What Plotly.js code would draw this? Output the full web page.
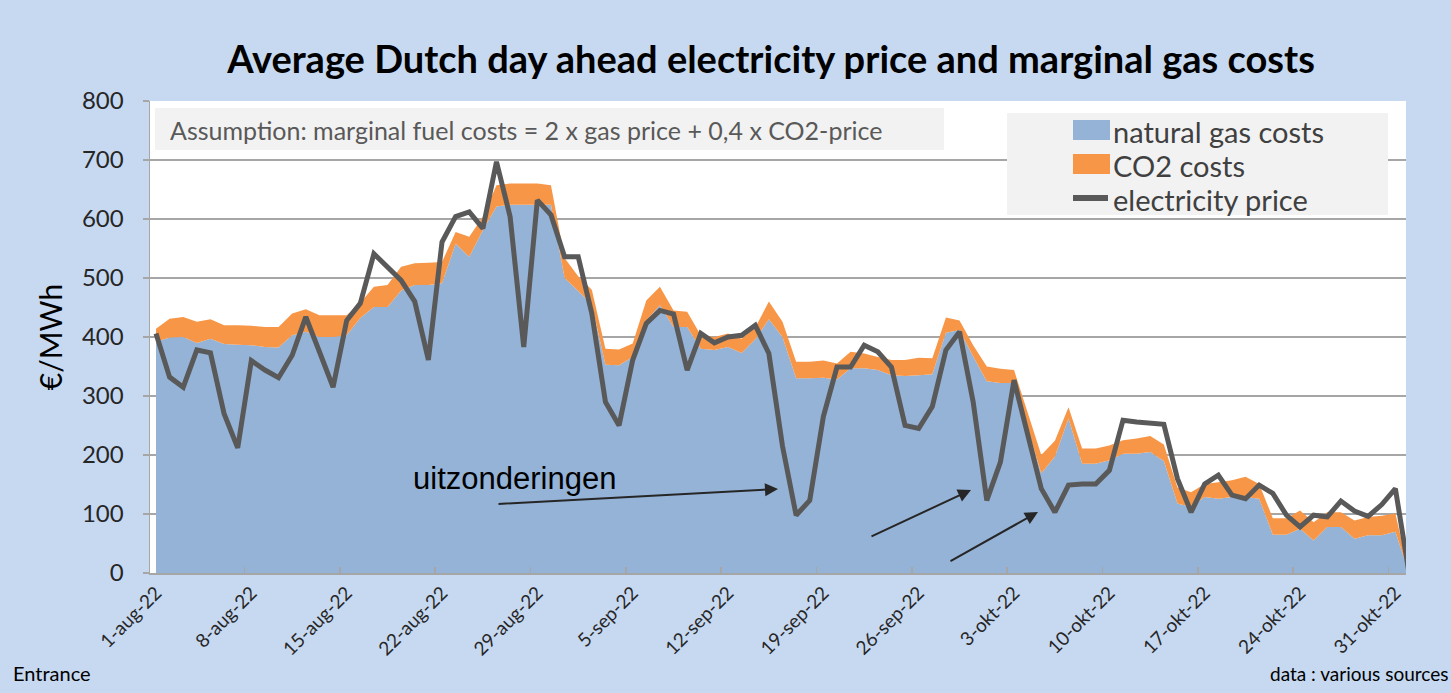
<!DOCTYPE html>
<html>
<head>
<meta charset="utf-8">
<script src="https://cdn.plot.ly/plotly-3.0.1.min.js"></script>
<style>
  html, body { margin: 0; padding: 0; background: #C6D9F1; }
  #chart { width: 1451px; height: 693px; }
</style>
</head>
<body>
<div id="chart"></div>
<script>
// ---- data (one value per day, starting 1 Aug 2022) ----
const startDate = '2022-08-01';

const electricityPrice = [
  406,332,315,378,373,270,212,360,344,331,
  369,434,375,315,428,457,541,519,496,460,
  361,561,604,612,584,697,604,383,632,607,
  536,536,440,290,250,361,423,445,439,344,
  406,390,400,403,420,372,215,98,123,265,
  349,349,386,375,349,250,245,282,378,409,
  290,123,188,327,236,143,103,149,151,151,
  174,259,256,253,252,160,103,151,166,132,
  126,149,135,98,78,98,95,122,105,96,
  116,143,0
];

const gasCosts = [
  392,399,400,390,397,388,387,386,383,382,
  403,409,400,400,403,432,451,451,479,488,
  488,491,558,536,581,621,624,624,624,624,
  500,478,455,353,352,366,428,454,417,417,
  380,378,383,373,396,430,400,330,330,331,
  328,347,347,344,335,334,335,337,407,412,
  367,325,322,322,245,169,197,262,185,185,
  191,202,202,205,190,118,112,129,126,129,
  129,126,65,65,75,55,78,78,58,64,
  64,70,0
];

const co2Costs = [
  22,32,34,36,33,32,33,33,34,35,
  37,38,37,37,34,26,34,37,40,37,
  38,36,20,34,23,36,36,36,36,33,
  34,25,25,27,27,23,34,31,28,26,
  23,22,23,24,20,30,26,28,28,29,
  27,28,25,22,26,27,30,27,26,16,
  19,25,24,22,27,31,27,19,26,26,
  25,23,26,27,28,27,25,22,28,28,
  34,25,28,28,31,31,25,25,31,31,
  33,31,0
];

const tickDates = ['2022-08-01','2022-08-08','2022-08-15','2022-08-22','2022-08-29',
  '2022-09-05','2022-09-12','2022-09-19','2022-09-26','2022-10-03','2022-10-10',
  '2022-10-17','2022-10-24','2022-10-31'];
const tickLabels = ['1-aug-22','8-aug-22','15-aug-22','22-aug-22','29-aug-22',
  '5-sep-22','12-sep-22','19-sep-22','26-sep-22','3-okt-22','10-okt-22',
  '17-okt-22','24-okt-22','31-okt-22'];

const seriesNames = ['natural gas costs', 'CO2 costs', 'electricity price'];
const seriesColors = ['#95B3D7', '#F79646', '#595959'];

// ---- helpers ----
function isoDay(offset) {
  const d = new Date(startDate + 'T00:00:00Z');
  d.setUTCDate(d.getUTCDate() + offset);
  return d.toISOString().slice(0, 10);
}
const dates = electricityPrice.map((_, i) => isoDay(i));
// tick marks sit on the day-slot boundaries (half a day before the label)
const boundaryTicks = tickDates.map(t => {
  const d = new Date(t + 'T00:00:00Z');
  return new Date(d.getTime() - 12 * 3600 * 1000).toISOString().slice(0, 19).replace('T', ' ');
});

const FONT = 'Lato, "Open Sans", "DejaVu Sans", sans-serif';

const traces = [
  {
    x: dates, y: gasCosts, name: seriesNames[0], type: 'scatter', mode: 'none',
    stackgroup: 'costs', fillcolor: seriesColors[0], line: { width: 0 }, showlegend: false
  },
  {
    x: dates, y: co2Costs, name: seriesNames[1], type: 'scatter', mode: 'none',
    stackgroup: 'costs', fillcolor: seriesColors[1], line: { width: 0 }, showlegend: false
  },
  {
    x: dates, y: electricityPrice, name: seriesNames[2], type: 'scatter', mode: 'lines',
    line: { color: seriesColors[2], width: 5 }, showlegend: false
  }
];

// plot-area pixel helpers for annotation placement
const PL = 150, PW = 1256, PB = 573, PH = 472;
const px = v => (v - PL) / PW;
const py = v => (PB - v) / PH;

// legend (drawn as a boxed key in the top-right of the plot)
const legendRows = [130, 164, 198];
const legendShapes = [
  { type: 'rect', xref: 'paper', yref: 'paper', layer: 'above',
    x0: px(1007), x1: px(1388), y0: py(215), y1: py(113),
    fillcolor: '#F2F2F2', line: { width: 0 } },
  { type: 'rect', xref: 'paper', yref: 'paper', layer: 'above',
    x0: px(1073), x1: px(1110), y0: py(legendRows[0] + 10), y1: py(legendRows[0] - 10),
    fillcolor: seriesColors[0], line: { width: 0 } },
  { type: 'rect', xref: 'paper', yref: 'paper', layer: 'above',
    x0: px(1073), x1: px(1110), y0: py(legendRows[1] + 10), y1: py(legendRows[1] - 10),
    fillcolor: seriesColors[1], line: { width: 0 } },
  { type: 'line', xref: 'paper', yref: 'paper', layer: 'above',
    x0: px(1073), x1: px(1108), y0: py(legendRows[2]), y1: py(legendRows[2]),
    line: { color: seriesColors[2], width: 6 } }
];
const legendTexts = seriesNames.map((n, i) => ({
  xref: 'paper', yref: 'paper', x: px(1111), y: py(legendRows[i] + 1),
  xanchor: 'left', yanchor: 'middle', text: n, showarrow: false,
  font: { family: FONT, size: 29, color: '#404040' }
}));

const layout = {
  width: 1451, height: 693,
  margin: { l: 150, r: 45, t: 101, b: 120, pad: 0 },
  paper_bgcolor: '#C6D9F1',
  plot_bgcolor: '#FFFFFF',
  font: { family: FONT, color: '#262626' },
  showlegend: false,
  title: {
    text: '<b>Average Dutch day ahead electricity price and marginal gas costs</b>',
    font: { family: FONT, size: 38, color: '#000000' },
    x: 771 / 1451, xanchor: 'center',
    y: 1 - 60 / 693, yanchor: 'middle', yref: 'container'
  },
  xaxis: {
    type: 'date',
    range: ['2022-07-31 13:26', '2022-10-31 18:43'],
    tickmode: 'array', tickvals: tickDates, ticktext: tickLabels,
    tickangle: -45, ticks: '', tickfont: { family: FONT, size: 19, color: '#262626' },
    showgrid: false, zeroline: false,
    showline: true, linecolor: '#A6A6A6', linewidth: 1.5,
    minor: { tickmode: 'array', tickvals: boundaryTicks, ticks: 'inside', ticklen: 6,
             tickcolor: '#A6A6A6', tickwidth: 1.5, showgrid: false }
  },
  yaxis: {
    range: [0, 800], dtick: 100, tick0: 0,
    showgrid: true, gridcolor: '#A6A6A6', gridwidth: 1.3,
    zeroline: false, showline: true, linecolor: '#A6A6A6', linewidth: 1.5,
    ticks: 'outside', ticklen: 6, tickcolor: '#A6A6A6', tickwidth: 1.3,
    ticklabelstandoff: 14,
    tickfont: { family: FONT, size: 24, color: '#262626' },
    title: { text: '€/MWh', font: { family: FONT, size: 30, color: '#000000' }, standoff: 10 }
  },
  shapes: [
    { type: 'rect', xref: 'paper', yref: 'paper', layer: 'above',
      x0: px(155), x1: px(944), y0: py(150), y1: py(108),
      fillcolor: '#F2F2F2', line: { width: 0 } }
  ].concat(legendShapes),
  annotations: [
    { xref: 'paper', yref: 'paper', x: px(168), y: py(130), xanchor: 'left', yanchor: 'middle',
      text: 'Assumption: marginal fuel costs = 2 x gas price + 0,4 x CO2-price',
      showarrow: false, font: { family: FONT, size: 25, color: '#595959' } },
    { xref: 'paper', yref: 'paper', x: px(411), y: py(478), xanchor: 'left', yanchor: 'middle',
      text: 'uitzonderingen', showarrow: false,
      font: { family: '"Liberation Sans", Arial, sans-serif', size: 31, color: '#000000' } },
    { xref: 'paper', yref: 'paper', x: px(778), y: py(489), text: '', showarrow: true,
      ax: 497 - 778, ay: 504 - 489, arrowhead: 2, arrowsize: 1.3, arrowwidth: 2, arrowcolor: '#262626' },
    { xref: 'paper', yref: 'paper', x: px(971), y: py(490), text: '', showarrow: true,
      ax: 870 - 971, ay: 537 - 490, arrowhead: 2, arrowsize: 1.3, arrowwidth: 2, arrowcolor: '#262626' },
    { xref: 'paper', yref: 'paper', x: px(1038), y: py(512), text: '', showarrow: true,
      ax: 949 - 1038, ay: 562 - 512, arrowhead: 2, arrowsize: 1.3, arrowwidth: 2, arrowcolor: '#262626' },
    { xref: 'paper', yref: 'paper', x: px(11), y: py(673), xanchor: 'left', yanchor: 'middle',
      text: 'Entrance', showarrow: false, font: { family: FONT, size: 20, color: '#000000' } },
    { xref: 'paper', yref: 'paper', x: px(1451), y: py(673), xanchor: 'right', yanchor: 'middle',
      text: 'data : various sources', showarrow: false, font: { family: FONT, size: 19, color: '#000000' } }
  ].concat(legendTexts)
};

Plotly.newPlot('chart', traces, layout, { staticPlot: true, displayModeBar: false });
</script>
</body>
</html>
